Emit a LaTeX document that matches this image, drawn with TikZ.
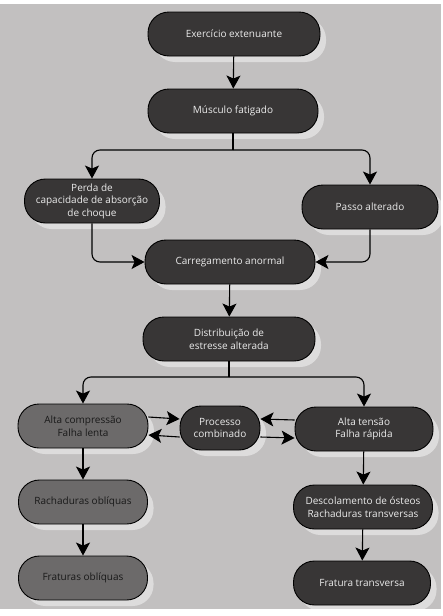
\documentclass[tikz,border=0pt]{standalone}
\usepackage{fontspec}
\setmainfont{Open Sans}
\usetikzlibrary{arrows.meta,shadows}
\definecolor{paper}{HTML}{C2C0C0}
\definecolor{boxdark}{HTML}{383636}
\definecolor{boxmid}{HTML}{6C6A6A}

\begin{document}
\begin{tikzpicture}[x=1pt,y=-1pt,
    box/.style={rectangle,rounded corners=21pt,draw=black,line width=0.9pt,
      fill=boxdark,text=white!92!black,align=center,inner xsep=0pt,
      minimum height=44pt,font=\fontsize{10}{12.5}\selectfont,
      drop shadow={shadow xshift=6pt,shadow yshift=-6pt,fill=white,opacity=0.45}},
    lbox/.style={box,fill=boxmid,text=black!90},
    link/.style={line width=1.1pt,-{Stealth[length=13pt,width=14pt,inset=3pt]}},
    elbow/.style={link,rounded corners=8pt}]
    \useasboundingbox (0,0) rectangle (442,616);
    \fill[paper] (0,4) rectangle (441,609);

    \node[box,minimum width=172pt] (ex) at (234,34) {Exercício extenuante};
    \node[box,minimum width=170pt] (musc) at (233,111) {Músculo fatigado};
    \node[box,minimum width=135pt] (perda) at (92,201) {Perda de\\capacidade de absorção\\de choque};
    \node[box,minimum width=136pt] (passo) at (370,207) {Passo alterado};
    \node[box,minimum width=170pt] (carreg) at (230,262) {Carregamento anormal};
    \node[box,minimum width=172pt] (dist) at (229,339) {Distribuição de\\estresse alterada};
    \node[lbox,minimum width=130pt] (altac) at (83,426) {Alta compressão\\Falha lenta};
    \node[box,minimum width=80pt] (proc) at (220,428) {Processo\\combinado};
    \node[box,minimum width=138pt] (altat) at (364,429) {Alta tensão\\Falha rápida};
    \node[lbox,minimum width=129pt] (rach) at (83,502) {Rachaduras oblíquas};
    \node[lbox,minimum width=129pt] (fratob) at (83,578) {Fraturas oblíquas};
    \node[box,minimum width=139pt] (desc) at (363,507) {Descolamento de ósteos\\Rachaduras transversas};
    \node[box,minimum width=137pt] (fratt) at (362,583) {Fratura transversa};

    \coordinate (split1) at (233,150);
    \coordinate (split2) at (229,377);

    \draw[link] (ex) -- (musc);
    \draw[line width=1.1pt] (musc) -- (split1);
    \draw[elbow] (split1) -| (perda);
    \draw[elbow] (split1) -| (passo);
    \draw[elbow] (perda) |- (carreg);
    \draw[elbow] (passo) |- (carreg);
    \draw[link] (carreg) -- (dist);
    \draw[line width=1.1pt] (dist) -- (split2);
    \draw[elbow] (split2) -| (altac);
    \draw[elbow] (split2) -| (altat);

    % processo combinado
    \draw[link] ([yshift=9pt]altac.east) -- ([yshift=9pt]proc.west);
    \draw[link] ([yshift=-9pt]proc.west) -- ([yshift=-9pt]altac.east);
    \draw[link] ([yshift=9pt]altat.west) -- ([yshift=9pt]proc.east);
    \draw[link] ([yshift=-9pt]proc.east) -- ([yshift=-9pt]altat.west);

    \draw[link] (altac) -- (rach);
    \draw[link] (rach) -- (fratob);
    \draw[link] (altat) -- (desc);
    \draw[link] (desc) -- (fratt);
\end{tikzpicture}
\end{document}
